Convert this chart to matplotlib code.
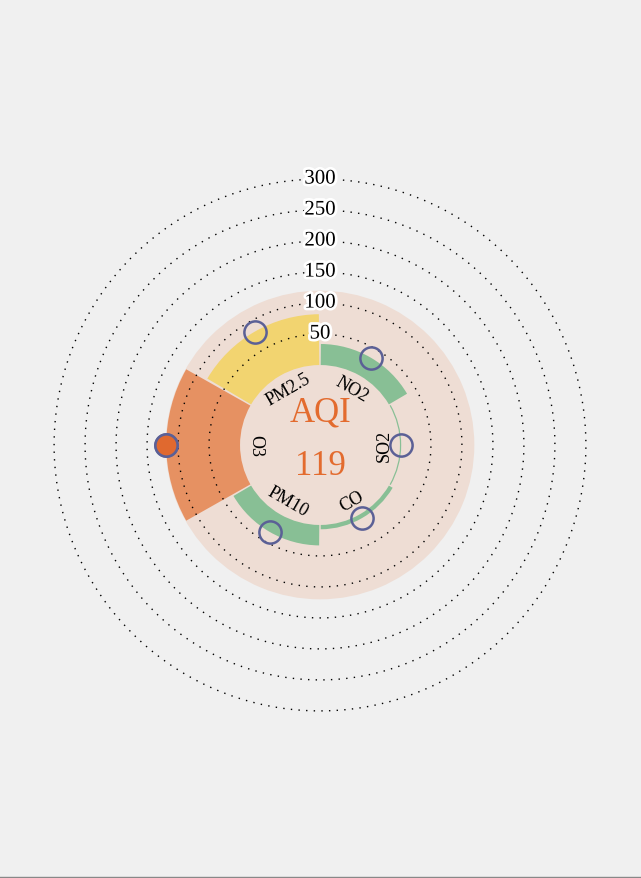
import numpy as np
import matplotlib.pyplot as plt
from matplotlib import patheffects as pe
from matplotlib.lines import Line2D

# Daten
pollutants = ['PM2.5', 'NO2', 'SO2', 'CO', 'PM10', 'O3']
sub_index = [82, 34, 2, 7, 33, 119]
aqi = 119
rings = [50, 100, 150, 200, 250, 300]

serif = 'Liberation Serif'


def level_color(v):
    if v <= 50:
        return '#88bf95'
    if v <= 100:
        return '#f2d470'
    return '#e69162'


fig = plt.figure(figsize=(6.41, 8.79), dpi=100)
fig.patch.set_facecolor('#f0f0f0')

# Polarachse, Zentrum bei (320, 446) px, Radius 300 px
ax = fig.add_axes([20 / 641, 133 / 879, 600 / 641, 600 / 879], projection='polar')
ax.set_theta_zero_location('N')
ax.set_theta_direction(-1)
hole = 129  # innerer Kreis (Wert 0 liegt bei 80 px)
ax.set_ylim(-hole, 355)
ax.patch.set_visible(False)
ax.grid(False)
ax.set_xticks([])
ax.set_yticks([])
ax.spines['polar'].set_visible(False)

# Hintergrundscheibe bis zum AQI
ax.bar(0, aqi + hole + 1, width=2 * np.pi, bottom=-hole, color='#eeddd4', zorder=0)

# Balken je Schadstoff
n = len(pollutants)
step = 2 * np.pi / n
theta = np.array([(i * step - step / 2) % (2 * np.pi) for i in range(n)])
ax.bar(theta, sub_index, width=step - np.deg2rad(1.0), bottom=0,
       color=[level_color(v) for v in sub_index], zorder=1)

# gepunktete Ringe mit Beschriftung
circ = np.linspace(0, 2 * np.pi, 500)
for r in rings:
    ax.plot(circ, np.full_like(circ, r), color='black', lw=1,
            linestyle=(0, (1, 4.5)), zorder=2)
    ax.text(0, r, str(r), ha='center', va='center', fontsize=15, family=serif,
            zorder=3, path_effects=[pe.withStroke(linewidth=4, foreground='white')])

# Schadstoffnamen im inneren Kreis
for t, name in zip(theta, pollutants):
    deg = np.rad2deg(t)
    if 90 <= deg < 270:
        rot = -(deg - 180)
    else:
        rot = -deg
    ax.text(t, -25, name, ha='center', va='center', rotation=rot,
            rotation_mode='anchor', fontsize=13, family=serif, zorder=3)

# Marker
imax = int(np.argmax(sub_index))
ax.plot(theta, sub_index, 'o', ms=16, mfc='none', mec='#5b6096', mew=1.8, zorder=4)
ax.plot(theta[imax], sub_index[imax], 'o', ms=16, mfc='#e0692f', mec='#5b6096',
        mew=1.8, zorder=5)

# AQI in der Mitte
ax.text(0.5, 0.5 + 33 / 600, 'AQI', transform=ax.transAxes, ha='center', va='center',
        fontsize=25, family=serif, color='#e36b2e')
ax.text(0.5, 0.5 - 21 / 600, str(aqi), transform=ax.transAxes, ha='center', va='center',
        fontsize=25, family=serif, color='#e36b2e')

fig.add_artist(Line2D([0, 1], [1.5 / 879, 1.5 / 879], color='#888888', lw=1))

plt.savefig('out.png', dpi=100, facecolor=fig.get_facecolor())
plt.close()
